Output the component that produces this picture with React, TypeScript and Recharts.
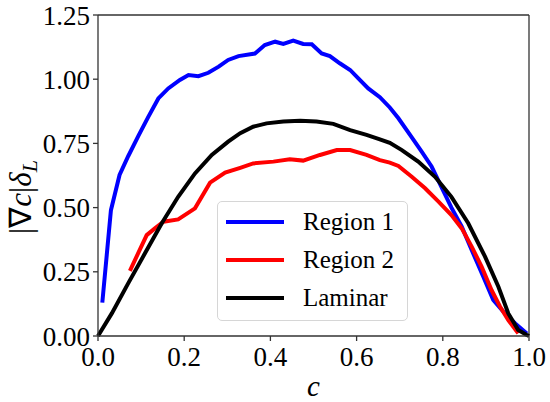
import React from 'react'
import { LineChart, Line, XAxis, YAxis, ReferenceLine, Label } from 'recharts'

// progress variable c and |grad c| * delta_L
const region1C = [0.01, 0.03, 0.05, 0.07, 0.094, 0.117, 0.14, 0.163, 0.19, 0.21, 0.233, 0.256, 0.28, 0.302, 0.326, 0.364, 0.387, 0.411, 0.43, 0.453, 0.476, 0.496, 0.519, 0.538, 0.561, 0.585, 0.604, 0.627, 0.654, 0.677, 0.697, 0.724, 0.751, 0.774, 0.797, 0.82, 0.844, 0.867, 0.894, 0.917, 0.944, 0.968, 0.995]
const region1V = [0.13, 0.49, 0.627, 0.7, 0.78, 0.854, 0.925, 0.964, 0.997, 1.016, 1.012, 1.025, 1.049, 1.075, 1.09, 1.1, 1.133, 1.146, 1.137, 1.15, 1.137, 1.136, 1.1, 1.09, 1.062, 1.036, 1.003, 0.964, 0.93, 0.89, 0.848, 0.783, 0.718, 0.66, 0.58, 0.5, 0.426, 0.335, 0.231, 0.14, 0.088, 0.049, 0.01]

const region2C = [0.074, 0.113, 0.132, 0.152, 0.186, 0.225, 0.26, 0.295, 0.33, 0.36, 0.407, 0.445, 0.476, 0.515, 0.554, 0.585, 0.623, 0.654, 0.677, 0.697, 0.728, 0.759, 0.79, 0.82, 0.844, 0.867, 0.89, 0.913, 0.933, 0.952, 0.975]
const region2V = [0.254, 0.393, 0.419, 0.445, 0.454, 0.497, 0.597, 0.636, 0.655, 0.672, 0.679, 0.688, 0.683, 0.705, 0.724, 0.724, 0.705, 0.685, 0.675, 0.662, 0.62, 0.575, 0.523, 0.471, 0.419, 0.348, 0.27, 0.179, 0.114, 0.062, 0.01]

const laminarC = [0, 0.032, 0.07, 0.109, 0.148, 0.186, 0.225, 0.264, 0.302, 0.33, 0.36, 0.391, 0.43, 0.469, 0.507, 0.546, 0.585, 0.623, 0.654, 0.677, 0.705, 0.743, 0.782, 0.82, 0.859, 0.898, 0.929, 0.952, 0.975, 0.995, 1.0]
const laminarV = [0, 0.088, 0.205, 0.322, 0.439, 0.542, 0.633, 0.705, 0.757, 0.79, 0.815, 0.828, 0.835, 0.838, 0.835, 0.826, 0.802, 0.783, 0.766, 0.752, 0.724, 0.679, 0.62, 0.542, 0.439, 0.309, 0.192, 0.088, 0.023, 0.004, 0]

const xTicks = [0, 0.2, 0.4, 0.6, 0.8, 1.0]
const yTicks = [0, 0.25, 0.5, 0.75, 1.0, 1.25]

const FONT = '"Liberation Serif", serif'
const AXIS = '#333'

const toPoints = (xs: number[], ys: number[]) => xs.map((x, i) => ({ x, y: ys[i] }))

const series = [
  { name: 'Region 1', color: '#0000ff', data: toPoints(region1C, region1V) },
  { name: 'Region 2', color: '#ff0000', data: toPoints(region2C, region2V) },
  { name: 'Laminar', color: '#000000', data: toPoints(laminarC, laminarV) },
]

const tickStyle = { fontFamily: FONT, fontSize: 27, fill: '#000' }

function YLabel() {
  return (
    <text transform="translate(31,197) rotate(-90)" textAnchor="middle" fontFamily={FONT} fontSize={31} fill="#000">
      <tspan>|∇</tspan>
      <tspan fontStyle="italic">c</tspan>
      <tspan>|</tspan>
      <tspan fontStyle="italic">δ</tspan>
      <tspan fontStyle="italic" fontSize={22} dy={6}>L</tspan>
    </text>
  )
}

function LegendBox() {
  return (
    <div
      style={{
        position: 'absolute', left: 217, top: 201, width: 191, height: 120,
        border: '1px solid #d6d6d6', borderRadius: 5, background: 'rgba(255,255,255,0.85)',
        fontFamily: FONT, fontSize: 25, boxSizing: 'border-box',
      }}
    >
      {series.map((s, i) => (
        <div key={s.name} style={{ position: 'absolute', left: 7, top: 4 + i * 38, height: 32, display: 'flex', alignItems: 'center' }}>
          <svg width={60} height={8} style={{ display: 'block' }}>
            <line x1={1} y1={4} x2={59} y2={4} stroke={s.color} strokeWidth={4} />
          </svg>
          <span style={{ marginLeft: 18, lineHeight: '32px' }}>{s.name}</span>
        </div>
      ))}
    </div>
  )
}

export default function App() {
  return (
    <div style={{ position: 'absolute', left: 0, top: 0, width: 550, height: 402, background: '#fff' }}>
      <LineChart width={550} height={402} margin={{ top: 15, right: 21, bottom: 0, left: 0 }}>
        <XAxis
          dataKey="x"
          type="number"
          domain={[0, 1]}
          ticks={xTicks}
          tickFormatter={(v: number) => v.toFixed(1)}
          allowDuplicatedCategory={false}
          height={66}
          stroke={AXIS}
          strokeWidth={1.3}
          tickSize={5}
          tickMargin={6}
          tick={tickStyle}
        >
          <Label
            value="c"
            position="insideBottom"
            offset={6}
            style={{ fontFamily: FONT, fontSize: 29, fontStyle: 'italic', fill: '#000' }}
          />
        </XAxis>
        <YAxis
          type="number"
          domain={[0, 1.25]}
          ticks={yTicks}
          tickFormatter={(v: number) => v.toFixed(2)}
          width={98}
          stroke={AXIS}
          strokeWidth={1.3}
          tickSize={5}
          tickMargin={3}
          tick={tickStyle}
          label={<YLabel />}
        />
        <ReferenceLine y={1.25} stroke={AXIS} strokeWidth={1.3} />
        <ReferenceLine x={1} stroke={AXIS} strokeWidth={1.3} />
        {series.map(s => (
          <Line
            key={s.name}
            data={s.data}
            dataKey="y"
            name={s.name}
            type="linear"
            stroke={s.color}
            strokeWidth={4}
            dot={false}
            activeDot={false}
            isAnimationActive={false}
          />
        ))}
      </LineChart>
      <LegendBox />
    </div>
  )
}
